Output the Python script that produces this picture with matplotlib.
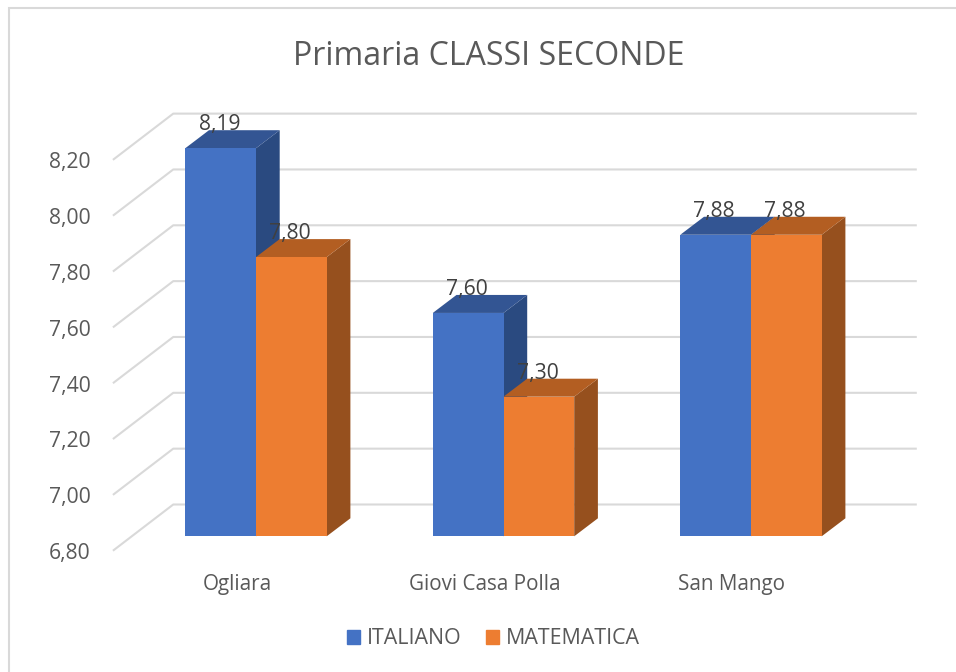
import matplotlib
matplotlib.use('Agg')
import matplotlib.pyplot as plt
from matplotlib.patches import Polygon, Patch, Rectangle
from matplotlib.transforms import Affine2D

plt.rcParams['font.family'] = ['Open Sans', 'DejaVu Sans']

categories = ['Ogliara', 'Giovi Casa Polla', 'San Mango']
italiano = [8.19, 7.60, 7.88]
matematica = [7.80, 7.30, 7.88]
yticks = [6.8, 7.0, 7.2, 7.4, 7.6, 7.8, 8.0, 8.2]

W, H = 956, 672
GRID = '#d9d9d9'
TEXT = '#595959'
LABEL = '#404040'

fig = plt.figure(figsize=(W / 100, H / 100), dpi=100)

# axes box is the plane of the bars' front faces
x_px = 247.5
y_px = 279.2
left = 256 - 0.5 * x_px
bottom = 536.3
ax = fig.add_axes([left / W, (H - bottom) / H, 3 * x_px / W, 1.4 * y_px / H])
ax.set_xlim(-0.5, 2.5)
ax.set_ylim(6.8, 8.2)
ax.patch.set_visible(False)
for s in ax.spines.values():
    s.set_visible(False)

# chart border, only top and left show up in the crop
fig.add_artist(Rectangle((9 / W, -0.1), 1.2, 1.1 - 8 / H, transform=fig.transFigure,
                         fill=False, edgecolor=GRID, linewidth=1.5))

# pixel depths turned into data units
bar_dx = 23.7 / x_px
bar_dy = 18 / y_px
front_dx = -18.5 / x_px
front_dy = -13.8 / y_px
back_dx = 41 / x_px
back_dy = 31.8 / y_px

for v in yticks:
    ax.plot([-0.5 + front_dx, -0.5 + back_dx, 2.5 + back_dx],
            [v + front_dy, v + back_dy, v + back_dy],
            color=GRID, lw=1.5, clip_on=False, zorder=1, solid_joinstyle='round')


def draw_bar(x0, w, v, front, top, side):
    base = yticks[0]
    x1 = x0 + w
    ax.add_patch(Polygon([(x1, base), (x1 + bar_dx, base + bar_dy), (x1 + bar_dx, v + bar_dy), (x1, v)],
                         facecolor=side, edgecolor='none', clip_on=False, zorder=2))
    ax.add_patch(Polygon([(x0, v), (x0 + bar_dx, v + bar_dy), (x1 + bar_dx, v + bar_dy), (x1, v)],
                         facecolor=top, edgecolor='none', clip_on=False, zorder=2))
    ax.bar(x0, v - base, w, bottom=base, align='edge', color=front, clip_on=False, zorder=2)
    ax.annotate(f'{v:.2f}'.replace('.', ','), (x0 + w / 2, v), xytext=(-1, 17),
                textcoords='offset points', ha='center', va='center',
                fontsize=15.2, color=LABEL, zorder=3, annotation_clip=False)


w = 70.7 / x_px
for i in range(len(categories)):
    draw_bar(i - w, w, italiano[i], '#4472c4', '#335593', '#2a4a80')
    draw_bar(i, w, matematica[i], '#ed7d31', '#b35e22', '#96501e')

ax.set_xticks(range(len(categories)))
ax.set_xticklabels(categories)
ax.set_yticks(yticks)
ax.set_yticklabels([f'{v:.2f}'.replace('.', ',') for v in yticks])
ax.tick_params(length=0, labelsize=15.2, labelcolor=TEXT)

x_shift = Affine2D().translate(-19, -33)
for t in ax.get_xticklabels():
    t.set_transform(t.get_transform() + x_shift)
    t.set_fontsize(14.9)
y_shift = Affine2D().translate(-37, -14.8)
for t in ax.get_yticklabels():
    t.set_transform(t.get_transform() + y_shift)

fig.text(489 / W, 1 - 56.5 / H, 'Primaria CLASSI SECONDE', ha='center', va='center',
         fontsize=23, color=TEXT)

handles = [Patch(color='#4472c4', label='ITALIANO'), Patch(color='#ed7d31', label='MATEMATICA')]
fig.legend(handles=handles, loc='center', bbox_to_anchor=(493.5 / W, 1 - 639 / H), ncol=2, frameon=False,
           fontsize=15.4, labelcolor=TEXT, handlelength=0.61, handleheight=0.65, handletextpad=0.3,
           columnspacing=1.15)

fig.savefig('out.png', dpi=100)
